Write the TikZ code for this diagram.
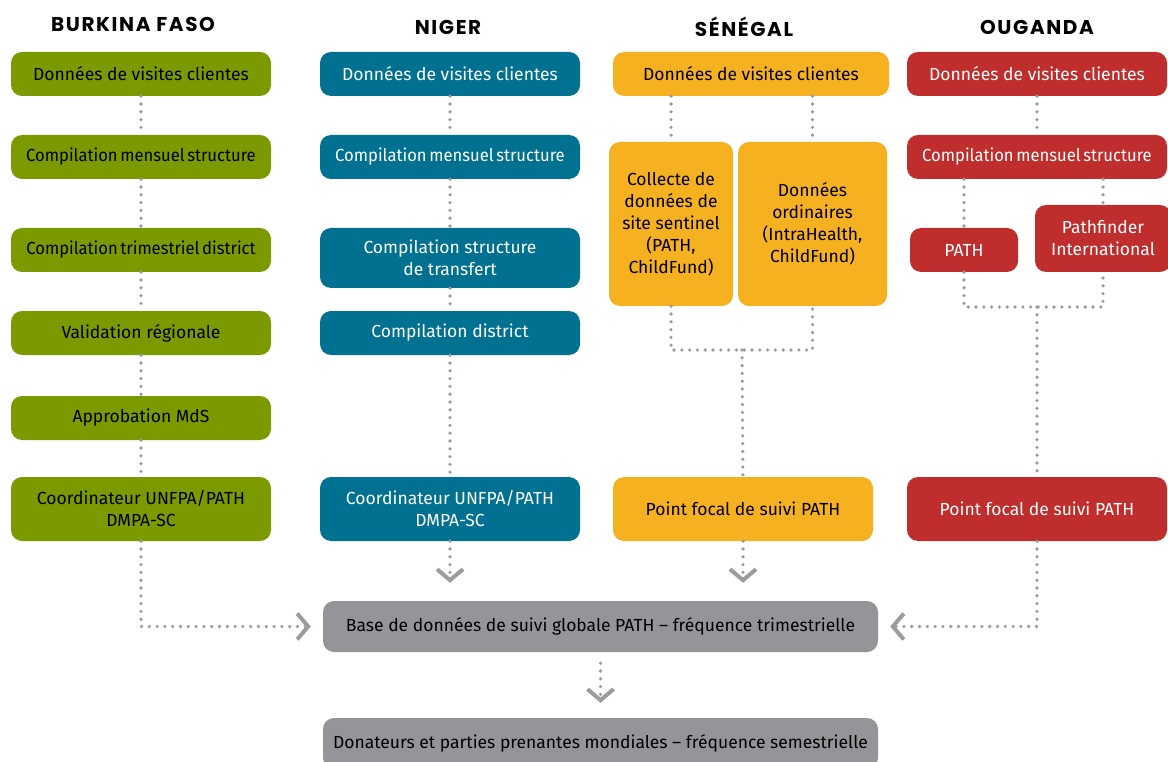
\documentclass[tikz,border=0pt]{standalone}
\usepackage{fontspec}
\setmainfont{Fira Sans}
\newfontfamily\titlefont{Poppins}[LetterSpace=8]
\newfontfamily\tightfont{Fira Sans}[FakeStretch=0.95]
\newcommand\tightspace{\spaceskip=2.6pt plus 1pt\relax}
\usepackage{tikz}
\usetikzlibrary{arrows.meta}

\definecolor{bfgreen}{RGB}{122,154,0}
\definecolor{nigblue}{RGB}{0,113,145}
\definecolor{senyellow}{RGB}{246,177,33}
\definecolor{ugred}{RGB}{191,46,44}
\definecolor{basegrey}{RGB}{147,149,152}
\definecolor{dotgrey}{RGB}{155,156,159}

\begin{document}
\begin{tikzpicture}[x=1pt,y=-1pt,>={Straight Barb[length=11pt,width=26pt,line width=4pt]},
	box/.style={rounded corners=11pt,inner sep=0pt,align=center,
		font=\fontsize{17.5}{22}\selectfont},
	tight/.style={font=\tightfont\fontsize{17.5}{22}\selectfont\tightspace},
	green node/.style={box,fill=bfgreen,text=black,minimum width=260pt,minimum height=44pt},
	blue node/.style={box,fill=nigblue,text=white,minimum width=260pt,minimum height=44pt},
	yellow node/.style={box,fill=senyellow,text=black,minimum width=260pt,minimum height=44pt},
	red node/.style={box,fill=ugred,text=white,minimum width=260pt,minimum height=44pt},
	grey node/.style={box,fill=basegrey,text=black,minimum width=555pt,minimum height=51pt},
	dots/.style={draw=dotgrey,line width=3.6pt,line cap=round,dash pattern=on 0pt off 7.8pt},
	flow/.style={dots,->},
	title/.style={font=\titlefont\bfseries\fontsize{20}{22}\selectfont}]
	
	\useasboundingbox (0,0) rectangle (1168,762);
	\clip (0,0) rectangle (1168,762);
	
	% titles
	\node[title] (tb) at (133,24) {BURKINA FASO};
	\node[title] (tn) at (448,27) {NIGER};
	\node[title] (ts) at (744,27) {SÉNÉGAL};
	\node[title] (to) at (1037,27) {OUGANDA};
	
	% Burkina Faso
	\node[green node] (b1) at (141,74) {Données de visites clientes};
	\node[green node,tight] (b2) at (141,157) {Compilation mensuel structure};
	\node[green node,tight] (b3) at (141,250) {Compilation trimestriel district};
	\node[green node] (b4) at (141,333) {Validation régionale};
	\node[green node] (b5) at (141,418) {Approbation MdS};
	\node[green node,minimum height=64pt] (b6) at (141,509) {Coordinateur UNFPA/PATH\\DMPA-SC};
	
	% Niger
	\node[blue node] (n1) at (450,74) {Données de visites clientes};
	\node[blue node,tight] (n2) at (450,157) {Compilation mensuel structure};
	\node[blue node,minimum height=60pt] (n3) at (450,258) {Compilation structure\\de transfert};
	\node[blue node] (n4) at (450,333) {Compilation district};
	\node[blue node,minimum height=64pt] (n6) at (450,509) {Coordinateur UNFPA/PATH\\DMPA-SC};
	
	% Senegal
	\node[yellow node,minimum width=276pt] (s1) at (751,74) {Données de visites clientes};
	\node[yellow node,minimum width=124pt,minimum height=164pt] (s2) at (671,224)
		{Collecte de\\données de\\site sentinel\\(PATH,\\ChildFund)};
	\node[yellow node,minimum width=149pt,minimum height=164pt] (s3) at (812.5,224)
		{Données\\ordinaires\\(IntraHealth,\\ChildFund)};
	\node[yellow node,minimum height=64pt] (s6) at (743,509) {Point focal de suivi PATH};
	
	% Ouganda
	\node[red node] (o1) at (1037,74) {Données de visites clientes};
	\node[red node,tight] (o2) at (1037,157) {Compilation mensuel structure};
	\node[red node,minimum width=108pt] (o3) at (964,250) {PATH};
	\node[red node,minimum width=136pt,minimum height=67pt] (o4) at (1103,238.5)
		{Pathfinder\\International};
	\node[red node,minimum height=64pt] (o6) at (1037,509) {Point focal de suivi PATH};
	
	% global
	\node[grey node] (base) at (600.5,626.5)
		{Base de données de suivi globale PATH -- fréquence trimestrielle};
	\node[grey node] (don) at (600.5,743.5)
		{Donateurs et parties prenantes mondiales -- fréquence semestrielle};
	
	\coordinate (sj) at (742,350);
	\coordinate (oj) at (1037,307);
	
	\path[dots]
	(b1) edge (b2) (b2) edge (b3) (b3) edge (b4) (b4) edge (b5) (b5) edge (b6)
	(n1) edge (n2) (n2) edge (n3) (n3) edge (n4) (n4) edge (n6)
	(o1) edge (o2);
	
	\draw[dots] (s2.north |- s1.south) -- (s2.north);
	\draw[dots] (s3.north |- s1.south) -- (s3.north);
	\draw[dots] (s2.south) |- (sj) -| (s3.south);
	\draw[dots] (sj) -- (s6.north);
	
	\draw[dots] (o3.north |- o2.south) -- (o3.north);
	\draw[dots] (o4.north |- o2.south) -- (o4.north);
	\draw[dots] (o3.south) |- (oj) -| (o4.south);
	\draw[dots] (oj) -- (o6.north);
	
	\draw[flow,shorten >=12pt] (b6.south) |- (base.west);
	\draw[flow,shorten >=18pt] (n6.south) -- (n6.south |- base.north);
	\draw[flow,shorten >=18pt] (s6.south) -- (s6.south |- base.north);
	\draw[flow,shorten >=12pt] (o6.south) |- (base.east);
	\draw[flow,shorten <=11pt,shorten >=15pt] (base.south) -- (don.north);
\end{tikzpicture}
\end{document}
